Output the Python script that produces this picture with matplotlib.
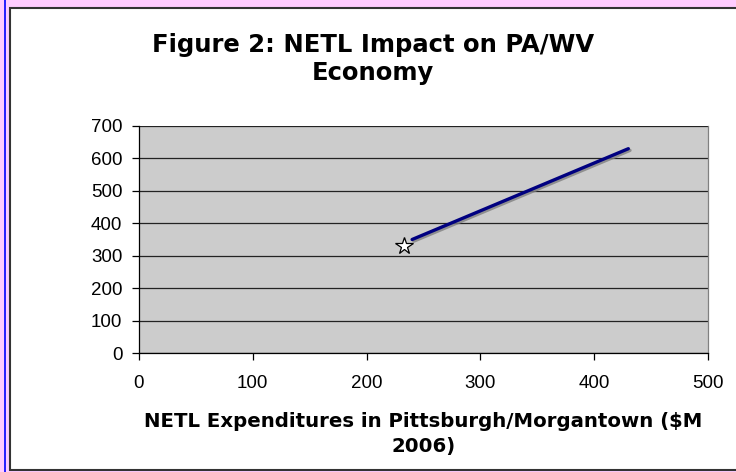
import matplotlib.pyplot as plt
import matplotlib.patheffects as pe
from matplotlib.patches import Rectangle
from matplotlib.lines import Line2D

# data
spend = [240, 430]
impact = [350, 630]
star_x = [233]
star_y = [330]

xticks = [0, 100, 200, 300, 400, 500]
yticks = [0, 100, 200, 300, 400, 500, 600, 700]

fig = plt.figure(figsize=(7.36, 4.72), dpi=100)
fig.patch.set_facecolor('#ffccff')

# white chart frame (page style)
W, H = 736, 472
frame = Rectangle((10 / W, 2 / H), 1, 462 / H, transform=fig.transFigure,
                  facecolor='white', edgecolor='#333333', linewidth=1.5, zorder=-1)
fig.patches.append(frame)
fig.lines.append(Line2D([4.5 / W, 4.5 / W], [0, 1], transform=fig.transFigure,
                        color='#0000ff', linewidth=1.2, zorder=-1))

ax = fig.add_axes([139 / W, 1 - 353 / H, (708 - 139) / W, (353 - 126) / H])
ax.set_zorder(2)
ax.set_facecolor('#cccccc')

ax.plot(spend, impact, color='#000080', linewidth=2.4, solid_capstyle='round',
        path_effects=[pe.SimpleLineShadow(offset=(1.2, -1.2), shadow_color='#808080', alpha=0.8),
                      pe.Normal()], zorder=3)
ax.plot(star_x, star_y, marker='*', markersize=13, markerfacecolor='white',
        markeredgecolor='black', markeredgewidth=0.9, linestyle='none', zorder=4)

ax.set_xlim(0, 500)
ax.set_ylim(0, 700)
ax.set_xticks(xticks)
ax.set_yticks(yticks)
ax.yaxis.grid(True, color='#222222', linewidth=0.9)
ax.set_axisbelow(True)

ax.spines['right'].set_color('#808080')
ax.spines['right'].set_linewidth(0.9)
ax.spines['top'].set_visible(False)
for s in ['left', 'bottom']:
    ax.spines[s].set_color('black')
    ax.spines[s].set_linewidth(0.9)

ax.tick_params(axis='both', direction='out', length=5, width=0.9, color='black',
               labelsize=13.5)
ax.tick_params(axis='y', pad=7)
ax.tick_params(axis='x', pad=11)
for lab in ax.get_xticklabels() + ax.get_yticklabels():
    lab.set_fontfamily('Liberation Sans')

ax.set_xlabel('NETL Expenditures in Pittsburgh/Morgantown ($M\n2006)',
              fontsize=14.2, fontweight='bold', linespacing=1.4, labelpad=14)

fig.text(0.5 + 10 / W / 2, 1 - 59 / H, 'Figure 2: NETL Impact on PA/WV\nEconomy',
         ha='center', va='center', fontsize=17.5, fontweight='bold', linespacing=1.2)

plt.savefig('out.png', dpi=100, facecolor=fig.get_facecolor())
